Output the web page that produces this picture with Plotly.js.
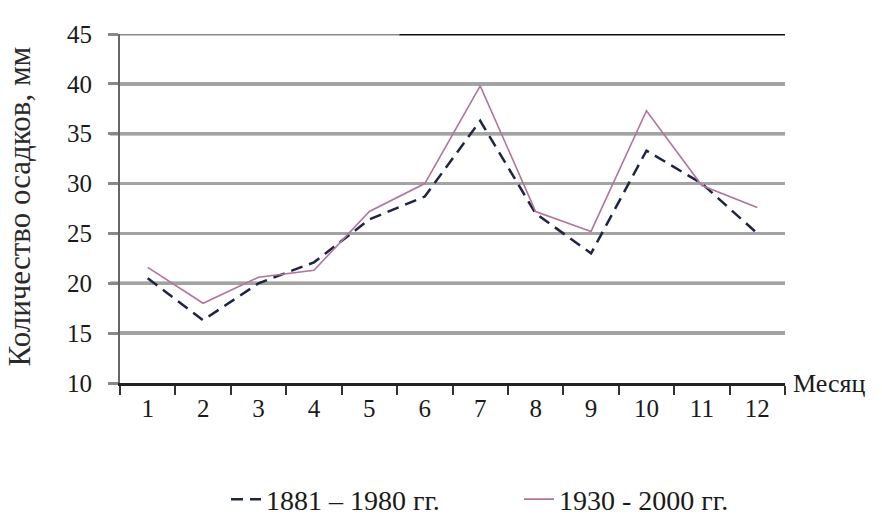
<!DOCTYPE html>
<html>
<head>
<meta charset="utf-8">
<script src="https://cdn.plot.ly/plotly-3.0.1.min.js"></script>
<style>html,body{margin:0;padding:0;background:#fff;}#chart{width:882px;height:529px;}</style>
</head>
<body>
<div id="chart"></div>
<script>
// Data
const months = [1, 2, 3, 4, 5, 6, 7, 8, 9, 10, 11, 12];
const monthLabels = ["1", "2", "3", "4", "5", "6", "7", "8", "9", "10", "11", "12"];
const precip1881_1980 = [20.5, 16.3, 20.0, 22.1, 26.4, 28.7, 36.3, 27.0, 23.0, 33.3, 30.0, 25.0];
const precip1930_2000 = [21.6, 18.0, 20.6, 21.3, 27.2, 30.0, 39.8, 27.2, 25.2, 37.3, 29.8, 27.6];
const seriesNames = ["1881 – 1980 гг.", "1930 - 2000 гг."];
const yTickValues = [10, 15, 20, 25, 30, 35, 40, 45];
const blackGridValues = [20, 35];
const topGridValue = 45;

const FONT = "Liberation Serif, Times New Roman, serif";

const shapes = blackGridValues.map(v => ({
  type: 'line', xref: 'paper', yref: 'y', x0: -0.015, x1: 1, y0: v, y1: v,
  line: {color: '#111', width: 3}, layer: 'below'
}));
shapes.push({type: 'line', xref: 'paper', yref: 'y', x0: -0.015, x1: 0.42, y0: topGridValue, y1: topGridValue,
  line: {color: '#8a8a8a', width: 3}, layer: 'below'});
shapes.push({type: 'line', xref: 'paper', yref: 'y', x0: 0.42, x1: 1, y0: topGridValue, y1: topGridValue,
  line: {color: '#111', width: 3}, layer: 'below'});

const data = [
  {x: months, y: precip1881_1980, name: seriesNames[0], type: 'scatter', mode: 'lines',
   line: {color: '#1e2544', width: 2.5, dash: '12px,7px'}},
  {x: months, y: precip1930_2000, name: seriesNames[1], type: 'scatter', mode: 'lines',
   line: {color: '#b2749c', width: 1.6}}
];

const layout = {
  width: 882, height: 529,
  margin: {l: 120, r: 97, t: 34, b: 146, autoexpand: false},
  paper_bgcolor: '#fff', plot_bgcolor: '#fff',
  font: {family: FONT, size: 24, color: '#1a1a1a'},
  showlegend: true,
  legend: {orientation: 'h', x: 0.6, xanchor: 'center', y: -0.262, yanchor: 'top',
    font: {family: FONT, size: 28, color: '#1a1a1a'}, entrywidth: 248, tracegroupgap: 0},
  xaxis: {
    range: [0.5, 12.5], tickmode: 'array', tickvals: months, ticktext: monthLabels,
    ticks: '', showgrid: false, zeroline: false, showline: true, linecolor: '#222', linewidth: 2.5,
    tickfont: {family: FONT, size: 25, color: '#1a1a1a'}, ticklabelstandoff: 1, automargin: false,
    minor: {ticks: 'outside', tick0: 0.5, dtick: 1, ticklen: 9, tickwidth: 2, tickcolor: '#333', showgrid: false}
  },
  yaxis: {
    range: [10, 45], tickmode: 'array', tickvals: yTickValues, automargin: false,
    showgrid: true, gridcolor: '#a3a3a3', gridwidth: 3.5, zeroline: false,
    showline: true, linecolor: '#666', linewidth: 2,
    ticks: 'outside', ticklen: 10, tickcolor: '#888', tickwidth: 3,
    tickfont: {family: FONT, size: 25, color: '#1a1a1a'}, ticklabelstandoff: 11
  },
  shapes: shapes,
  annotations: [{
    text: 'Месяц', xref: 'paper', yref: 'y', x: 1, y: 10, xanchor: 'left', yanchor: 'middle',
    xshift: 6, showarrow: false, font: {family: FONT, size: 26, color: '#1a1a1a'}
  }, {
    text: 'Количество осадков, мм', xref: 'paper', yref: 'paper', x: 0, y: 0.5,
    xanchor: 'center', yanchor: 'middle', xshift: -101, yshift: 2, textangle: -90, showarrow: false,
    font: {family: FONT, size: 31, color: '#2a2a2a'}
  }]
};

Plotly.newPlot('chart', data, layout, {displayModeBar: false, staticPlot: true});
</script>
</body>
</html>
